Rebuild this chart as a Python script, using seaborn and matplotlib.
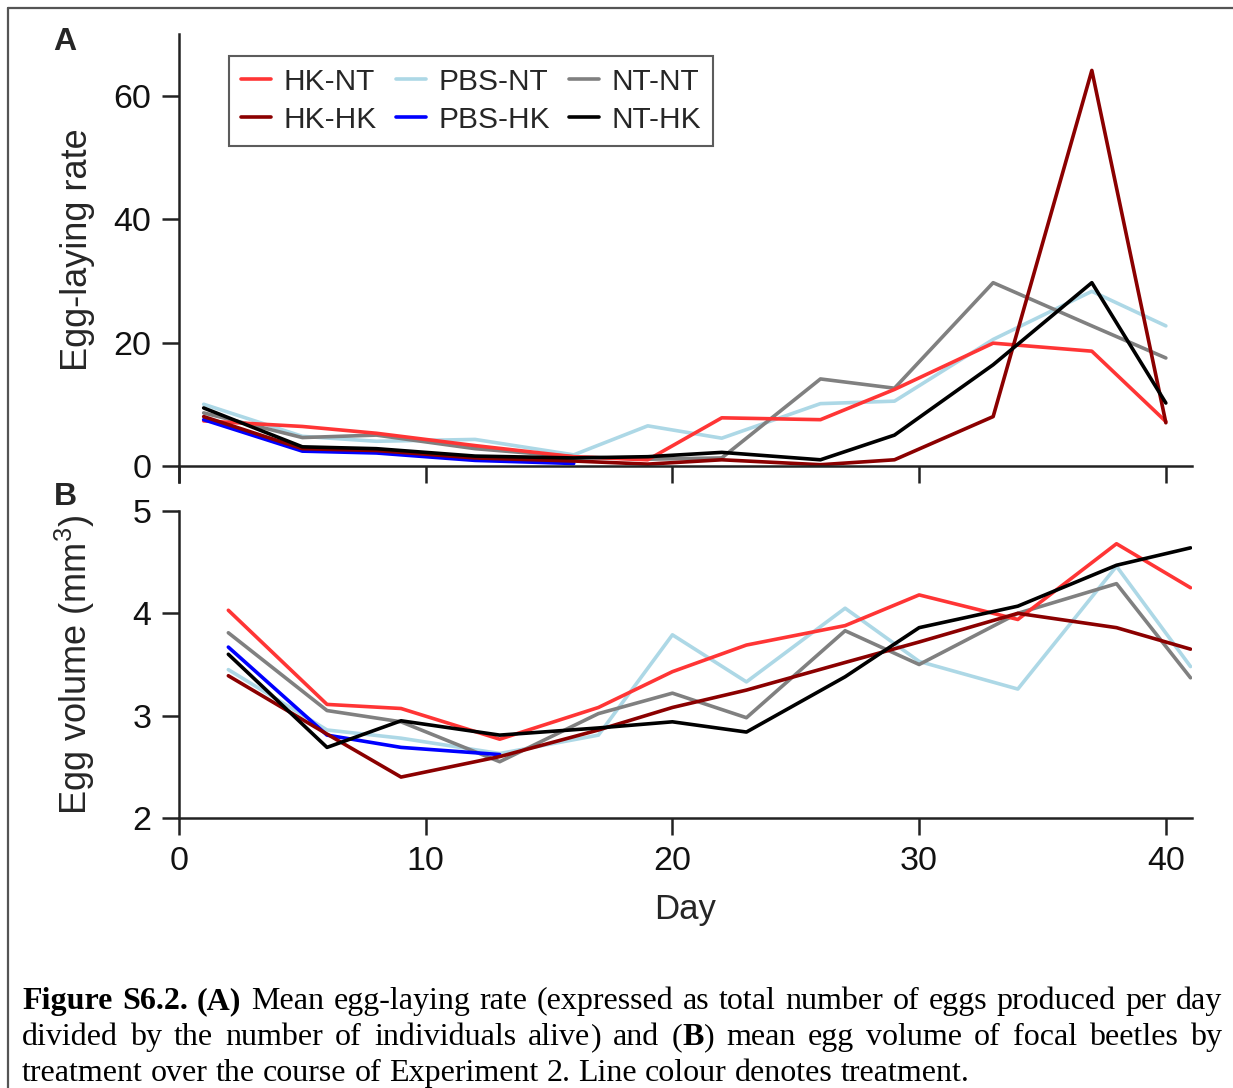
import matplotlib
matplotlib.use("Agg")
import matplotlib.pyplot as plt
import matplotlib.transforms as mtransforms
from matplotlib.lines import Line2D
import pandas as pd
import seaborn as sns

# treatments and colours
groups = ["HK-NT", "HK-HK", "PBS-NT", "PBS-HK", "NT-NT", "NT-HK"]
colours = {"HK-NT": "#ff3535", "HK-HK": "#8b0000", "PBS-NT": "#add8e6",
           "PBS-HK": "#0000ff", "NT-NT": "#808080", "NT-HK": "#000000"}

# panel A: egg-laying rate
days_a = [1, 5, 8, 12, 16, 19, 22, 26, 29, 33, 37, 40]
rate_hk_nt = [7.3, 6.4, 5.3, 3.3, 1.5, 1.0, 7.8, 7.5, 12.4, 19.9, 18.6, 7.2]
rate_hk_hk = [8.0, 2.8, 2.5, 1.3, 0.8, 0.3, 1.0, 0.2, 1.0, 8.0, 64.1, 7.0]
rate_pbs_nt = [10.0, 4.8, 4.0, 4.3, 1.8, 6.5, 4.5, 10.1, 10.5, 20.5, 28.3, 22.7]
rate_pbs_hk = [7.5, 2.4, 2.1, 0.9, 0.4]
rate_nt_nt = [8.6, 4.6, 5.0, 2.8, 1.5, 1.1, 1.3, 14.1, 12.6, 29.7, 22.7, 17.5]
rate_nt_hk = [9.4, 3.1, 2.8, 1.6, 1.3, 1.5, 2.2, 1.0, 5.0, 16.4, 29.7, 10.2]

# panel B: egg volume
days_b = [2, 6, 9, 13, 17, 20, 23, 27, 30, 34, 38, 41]
vol_hk_nt = [4.03, 3.11, 3.07, 2.77, 3.08, 3.43, 3.69, 3.88, 4.18, 3.94, 4.68, 4.25]
vol_hk_hk = [3.39, 2.82, 2.40, 2.60, 2.86, 3.08, 3.25, 3.52, 3.72, 4.00, 3.86, 3.65]
vol_pbs_nt = [3.45, 2.86, 2.78, 2.63, 2.81, 3.79, 3.33, 4.05, 3.53, 3.26, 4.46, 3.48]
vol_pbs_hk = [3.67, 2.81, 2.69, 2.62]
vol_nt_nt = [3.81, 3.05, 2.94, 2.55, 3.02, 3.22, 2.98, 3.83, 3.50, 4.00, 4.29, 3.37]
vol_nt_hk = [3.60, 2.69, 2.95, 2.81, 2.88, 2.94, 2.84, 3.38, 3.86, 4.07, 4.47, 4.64]

rates = [rate_hk_nt, rate_hk_hk, rate_pbs_nt, rate_pbs_hk, rate_nt_nt, rate_nt_hk]
vols = [vol_hk_nt, vol_hk_hk, vol_pbs_nt, vol_pbs_hk, vol_nt_nt, vol_nt_hk]


def long_df(days, series, col):
    rows = []
    for g, vals in zip(groups, series):
        for d, v in zip(days, vals):
            rows.append({"Day": d, col: v, "Treatment": g})
    return pd.DataFrame(rows)


df_a = long_df(days_a, rates, "rate")
df_b = long_df(days_b, vols, "volume")

sns.set_style("ticks")
plt.rcParams["font.family"] = ["Liberation Sans", "DejaVu Sans"]
plt.rcParams["mathtext.default"] = "regular"

W, H = 1233, 1088
fig = plt.figure(figsize=(W / 100, H / 100), dpi=100)
ax_a = fig.add_axes([179 / W, 1 - 482 / H, 1013 / W, 448 / H])
ax_b = fig.add_axes([179 / W, 1 - 818 / H, 1013 / W, 307 / H])

LW = 2.6
draw_order = ["PBS-NT", "NT-NT", "HK-NT", "PBS-HK", "HK-HK", "NT-HK"]
for ax, df, col in [(ax_a, df_a, "rate"), (ax_b, df_b, "volume")]:
    for g in draw_order:
        sub = df[df["Treatment"] == g]
        sns.lineplot(data=sub, x="Day", y=col, color=colours[g], linewidth=LW,
                     ax=ax, legend=False, estimator=None)
    ax.set_xlim(0, 41.06)
    for s in ["top", "right"]:
        ax.spines[s].set_visible(False)
    for s in ["left", "bottom"]:
        ax.spines[s].set_linewidth(1.8)
        ax.spines[s].set_color("#222222")
    ax.tick_params(length=12, width=1.8, color="#222222", labelsize=24.5, pad=8,
                   labelcolor="#111111")
    ax.set_xticks([0, 10, 20, 30, 40])

# panel A axes
ax_a.set_ylim(-2.6, 70)
ax_a.spines["bottom"].set_position(("data", 0))
ax_a.set_yticks([0, 20, 40, 60])
ax_a.set_xticklabels([])
ax_a.set_xlabel("")
ax_a.set_ylabel("Egg-laying rate", fontsize=26)

# panel B axes
ax_b.set_ylim(2, 5)
ax_b.set_yticks([2, 3, 4, 5])
ax_b.set_xlabel("Day", fontsize=25, labelpad=12)
ax_b.set_ylabel("Egg volume (mm$^{3}$)", fontsize=26)
ax_a.yaxis.set_label_coords(-84 / 1013, 0.518)
ax_b.yaxis.set_label_coords(-82 / 1013, 0.5)

# legend
handles = [Line2D([0], [0], color=colours[g], lw=LW) for g in groups]
leg = ax_a.legend(handles, groups, ncol=3, loc="upper left",
                  bbox_to_anchor=(50 / 1013, 1 - 22 / 448), fontsize=21.5,
                  frameon=True, fancybox=False, handlelength=1.0,
                  handletextpad=0.42, columnspacing=0.65, labelspacing=0.33,
                  borderpad=0.4, borderaxespad=0)
leg.get_frame().set_edgecolor("#333333")
leg.get_frame().set_linewidth(1.5)

# panel letters
fig.text(65 / W, 1 - 42 / H, "A", fontsize=23, weight="bold", ha="center", va="center")
fig.text(65 / W, 1 - 497 / H, "B", fontsize=23, weight="bold", ha="center", va="center")

# page border
fig.add_artist(Line2D([8 / W, 1], [1 - 8 / H, 1 - 8 / H], color="#555555", lw=1.6,
                      transform=fig.transFigure))
fig.add_artist(Line2D([8 / W, 8 / W], [0, 1 - 8 / H], color="#555555", lw=1.6,
                      transform=fig.transFigure))

# caption, justified like the source document
caption = [
    ([[("Figure", True)], [("S6.2.", True)], [("(A)", True)], [("Mean", False)],
      [("egg-laying", False)], [("rate", False)], [("(expressed", False)], [("as", False)],
      [("total", False)], [("number", False)], [("of", False)], [("eggs", False)],
      [("produced", False)], [("per", False)], [("day", False)]], True),
    ([[("divided", False)], [("by", False)], [("the", False)], [("number", False)],
      [("of", False)], [("individuals", False)], [("alive", False), (")", False)], [("and", False)],
      [("(", False), ("B", True), (")", False)], [("mean", False)], [("egg", False)],
      [("volume", False)], [("of", False)], [("focal", False)], [("beetles", False)],
      [("by", False)]], True),
    ([[(w, False)] for w in "treatment over the course of Experiment 2. Line colour denotes treatment.".split()], False),
]
baselines = [1009, 1045, 1081]
renderer = fig.canvas.get_renderer()
ident = mtransforms.IdentityTransform()
cap_size = 23
x_left, x_right = 22, 1222


def make(s, bold):
    return fig.text(0, 0, s, fontsize=cap_size, family="Liberation Serif",
                    weight="bold" if bold else "normal", transform=ident,
                    va="baseline", ha="left", color="black")


probe1 = make("a a", False)
probe2 = make("aa", False)
space_w = probe1.get_window_extent(renderer).width - probe2.get_window_extent(renderer).width
probe1.remove()
probe2.remove()

for (words, justify), base in zip(caption, baselines):
    items = []
    total = 0
    for word in words:
        segs = []
        for s, b in word:
            t = make(s, b)
            w = t.get_window_extent(renderer).width
            segs.append((t, w))
        ww = sum(w for _, w in segs)
        items.append((segs, ww))
        total += ww
    gap = (x_right - x_left - total) / (len(items) - 1) if justify else space_w
    x = x_left
    y = H - base
    for segs, ww in items:
        for t, w in segs:
            t.set_position((x, y))
            x += w
        x += gap

fig.savefig("out.png", dpi=100)
